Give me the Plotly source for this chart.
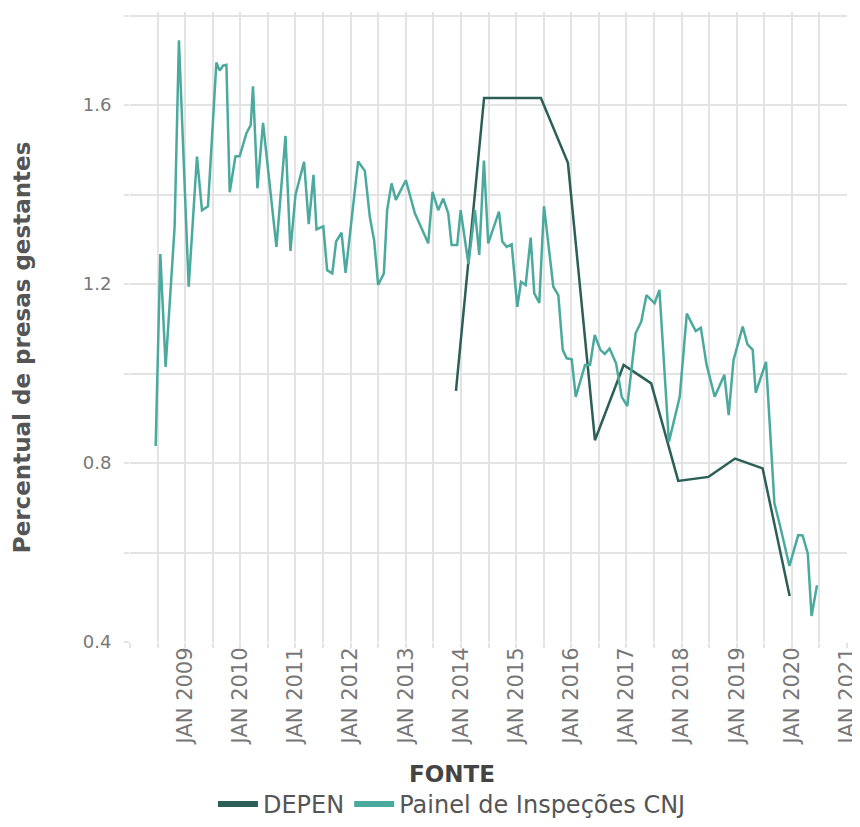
import plotly.graph_objects as go

# ---- data (decimal years) ----
cnj_year = [2008.465, 2008.550, 2008.646, 2008.809, 2008.887, 2009.064, 2009.214, 2009.305, 2009.414,
            2009.566, 2009.626, 2009.686, 2009.748, 2009.808, 2009.911, 2009.989, 2010.111, 2010.189,
            2010.230, 2010.310, 2010.412, 2010.655, 2010.819, 2010.909, 2011.000, 2011.156, 2011.241,
            2011.327, 2011.381, 2011.505, 2011.574, 2011.668, 2011.737, 2011.835, 2011.909, 2012.136,
            2012.258, 2012.348, 2012.426, 2012.499, 2012.603, 2012.662, 2012.742, 2012.820, 2013.002,
            2013.165, 2013.407, 2013.486, 2013.588, 2013.679, 2013.770, 2013.831, 2013.933, 2013.995,
            2014.136, 2014.254, 2014.332, 2014.417, 2014.495, 2014.690, 2014.750, 2014.829, 2014.920,
            2015.022, 2015.089, 2015.174, 2015.265, 2015.330, 2015.421, 2015.506, 2015.675, 2015.766,
            2015.846, 2015.918, 2016.009, 2016.082, 2016.250, 2016.341, 2016.426, 2016.528, 2016.608,
            2016.695, 2016.813, 2016.916, 2017.016, 2017.167, 2017.270, 2017.363, 2017.512, 2017.599,
            2017.771, 2017.967, 2018.096, 2018.256, 2018.350, 2018.452, 2018.601, 2018.777, 2018.855,
            2018.942, 2019.109, 2019.196, 2019.290, 2019.345, 2019.532, 2019.684, 2019.782, 2019.956,
            2020.116, 2020.194, 2020.289, 2020.357, 2020.456]
cnj_value = [0.838, 1.267, 1.015, 1.328, 1.745, 1.194, 1.485, 1.365, 1.374,
             1.695, 1.677, 1.688, 1.690, 1.405, 1.485, 1.486, 1.537, 1.555,
             1.642, 1.414, 1.560, 1.283, 1.531, 1.274, 1.399, 1.473, 1.334,
             1.444, 1.322, 1.329, 1.231, 1.224, 1.295, 1.315, 1.225, 1.474,
             1.453, 1.350, 1.298, 1.198, 1.224, 1.365, 1.425, 1.388, 1.432,
             1.358, 1.291, 1.406, 1.365, 1.391, 1.358, 1.287, 1.287, 1.365,
             1.245, 1.365, 1.265, 1.476, 1.291, 1.362, 1.295, 1.283, 1.289,
             1.149, 1.205, 1.198, 1.304, 1.179, 1.158, 1.374, 1.194, 1.175,
             1.053, 1.034, 1.032, 0.948, 1.019, 1.019, 1.086, 1.053, 1.044,
             1.056, 1.023, 0.948, 0.927, 1.090, 1.116, 1.175, 1.157, 1.187,
             0.847, 0.948, 1.134, 1.095, 1.102, 1.021, 0.948, 0.997, 0.907,
             1.030, 1.105, 1.065, 1.053, 0.957, 1.026, 0.710, 0.662, 0.570,
             0.639, 0.638, 0.598, 0.458, 0.527]

depen_year = [2013.91, 2014.42, 2014.93, 2015.45, 2015.94, 2016.43, 2016.95, 2017.45,
              2017.94, 2018.49, 2018.97, 2019.47, 2019.96]
depen_value = [0.961, 1.616, 1.616, 1.616, 1.471, 0.851, 1.019, 0.978,
               0.760, 0.769, 0.810, 0.788, 0.503]

year_ticks = [2008 + 0.5 * i for i in range(27)]
year_labels = ["JAN %d" % int(t) if (t == int(t) and t >= 2009) else "" for t in year_ticks]
y_ticks = [0.4, 0.6, 0.8, 1.0, 1.2, 1.4, 1.6, 1.8]
y_labels = ["0.4", "", "0.8", "", "1.2", "", "1.6", ""]

series_names = ["DEPEN", "Painel de Inspeções CNJ"]
y_title = "Percentual de presas gestantes"
legend_title = "FONTE"

DARK = "#2c5f57"
TEAL = "#4ca99e"
GRID = "#e3e3e3"
FONT = "DejaVu Sans"

fig = go.Figure()
fig.add_trace(go.Scatter(x=depen_year, y=depen_value, mode="lines", name=series_names[0],
                         line=dict(color=DARK, width=2.5), showlegend=False))
fig.add_trace(go.Scatter(x=cnj_year, y=cnj_value, mode="lines", name=series_names[1],
                         line=dict(color=TEAL, width=2.5), showlegend=False))
# legend entries with thicker swatches
fig.add_trace(go.Scatter(x=[None], y=[None], mode="lines", name=series_names[0],
                         line=dict(color=DARK, width=6)))
fig.add_trace(go.Scatter(x=[None], y=[None], mode="lines", name=series_names[1],
                         line=dict(color=TEAL, width=6)))

# page body adds an 8px margin, so the figure is 8px smaller than the window
fig.update_layout(
    width=852, height=819,
    margin=dict(l=122, r=13, t=4, b=185),
    plot_bgcolor="white", paper_bgcolor="white",
    font=dict(family=FONT, color="#666"),
    xaxis=dict(range=[2008.0, 2021.0], tickmode="array", tickvals=year_ticks, ticktext=year_labels,
               tickangle=-90, showgrid=True, gridcolor=GRID, gridwidth=2, automargin=False,
               ticks="outside", ticklen=5, tickcolor=GRID, tickwidth=2, ticklabelstandoff=-9,
               tickfont=dict(size=21, color="#777"), zeroline=False, showline=False),
    yaxis=dict(range=[0.4, 1.808], tickmode="array", tickvals=y_ticks, ticktext=y_labels,
               showgrid=True, gridcolor=GRID, gridwidth=2, automargin=False,
               ticks="outside", ticklen=5, tickcolor=GRID, tickwidth=2, ticklabelstandoff=9,
               tickfont=dict(size=18, color="#777"), zeroline=False, showline=False),
    legend=dict(orientation="h", xref="paper", x=0.449, xanchor="center",
                yref="container", y=-0.0134, yanchor="bottom",
                title=dict(text="<b>%s</b>" % legend_title, side="top center",
                           font=dict(size=23, color="#444")),
                font=dict(size=24, color="#555"), itemwidth=40),
    annotations=[dict(text="<b>%s</b>" % y_title, textangle=-90, xref="paper", yref="paper",
                      x=-0.1506, y=0.468, xanchor="center", yanchor="middle", showarrow=False,
                      font=dict(size=23, color="#555", family=FONT))],
)

fig.write_html("out.html")
